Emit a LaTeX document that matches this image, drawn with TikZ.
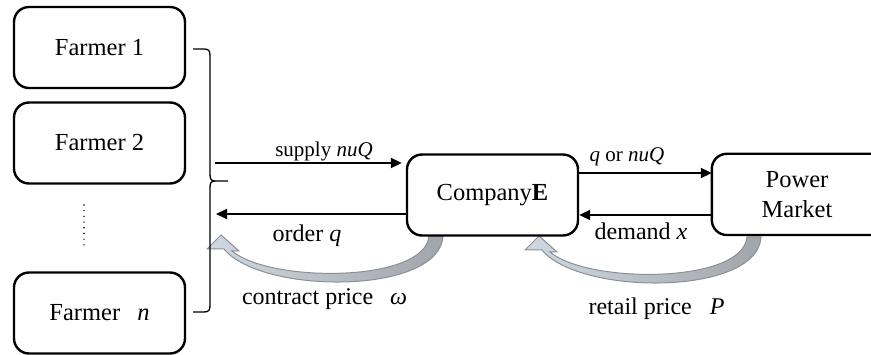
\documentclass[tikz,border=0pt]{standalone}
\usepackage{fontspec}
\setmainfont{Liberation Serif}
\usetikzlibrary{arrows.meta}
\definecolor{headc}{HTML}{CFD9E2}
\definecolor{tailc}{HTML}{A2A5AA}
\definecolor{edgec}{HTML}{8C9096}
\tikzset{
 box/.style={draw, line width=2.4pt, rounded corners=15pt, minimum width=171pt, minimum height=81pt, align=center, font=\fontsize{24.5}{30}\selectfont, inner sep=0pt},
 arr/.style={line width=2pt, -{Triangle[length=11pt,width=10pt]}},
 lbl/.style={font=\fontsize{24}{28}\selectfont, inner sep=0pt, anchor=base},
 tlbl/.style={font=\fontsize{21}{25}\selectfont, inner sep=0pt, anchor=base},
 bracel/.style={line width=1.3pt},
 garrow/.style={draw=edgec, line width=1pt, left color=headc, right color=tailc},
 dotsl/.style={line width=1.6pt, line cap=round, dash pattern=on 0pt off 5.7pt}
}
\begin{document}
\begin{tikzpicture}[x=1pt,y=-1pt]
\clip (0,0) rectangle (871,355);
% gray curved arrows
\path[garrow] (443,236) .. controls (440,295) and (262,295) .. (224,249) -- (207,249) -- (221,235) -- (239,251) -- (232,251) .. controls (270,283) and (425,283) .. (429,236) -- cycle;
\begin{scope}[shift={(318,1)}]
\path[garrow] (443,236) .. controls (440,295) and (262,295) .. (224,249) -- (207,249) -- (221,235) -- (239,251) -- (232,251) .. controls (270,283) and (425,283) .. (429,236) -- cycle;
\end{scope}
% boxes
\node[box] (f1) at (99.5,47.5) {Farmer 1};
\node[box] (f2) at (99.5,143) {Farmer 2};
\node[box] (fn) at (99.5,313) {Farmer\hspace{0.7em}\textit{n}};
\node[box] (comp) at (492.5,195) {Company\textbf{E}};
\node[box, draw=none, minimum width=168pt, minimum height=80pt] (pm) at (797,195) {Power\\Market};
\draw[line width=2.4pt, rounded corners=15pt] (pm.north west) rectangle (905,235);
% dots
\coordinate (d1) at (84,205);
\coordinate (d2) at (84,246);
\draw[dotsl] (d1) -- (d2);
% brace
\coordinate (bt) at (228,181);
\draw[bracel] (193,49) -- (204,49) .. controls (209,49) and (210,51) .. (210,56) -- (210,174) .. controls (210,179) and (211,181) .. (215,181) -- (bt);
\draw[bracel] (215,181) .. controls (211,181) and (210,183) .. (210,188) -- (210,305) .. controls (210,310) and (209,312) .. (204,312) -- (193,312);
% arrows
\coordinate (sA) at (215,163);
\draw[arr, shorten >=4pt] (sA) -- (sA -| comp.west);
\coordinate (oB) at (216,214);
\draw[arr] (oB -| comp.west) -- (oB);
\coordinate (qy) at (0,173);
\draw[arr] (comp.east |- qy) -- (pm.west |- qy);
\coordinate (dy) at (0,215);
\draw[arr] (pm.west |- dy) -- (comp.east |- dy);
% labels
\node[tlbl] (lsup) at (324,157) {supply \textit{nuQ}};
\node[lbl] (lord) at (307,242) {order \textit{q}};
\node[tlbl] (lq) at (627,162) {\textit{q} or \textit{nuQ}};
\node[lbl] (ldem) at (641,240) {demand \textit{x}};
\node[lbl] (lcon) at (324.5,305) {contract price\hspace{0.7em}\textit{ω}};
\node[lbl] (lret) at (656.5,315) {retail price\hspace{0.75em}\textit{P}};
\end{tikzpicture}
\end{document}
